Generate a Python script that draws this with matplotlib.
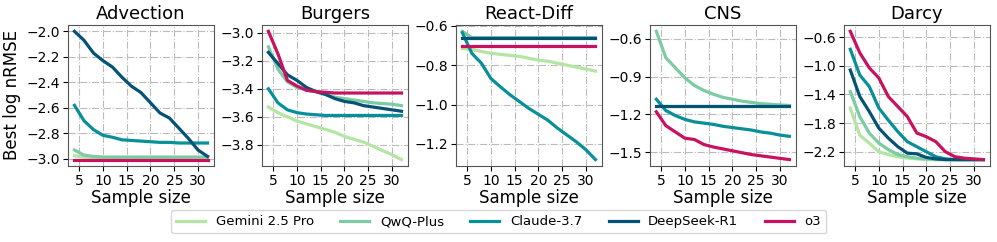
import numpy as np
import matplotlib
matplotlib.use("Agg")
import matplotlib.pyplot as plt

# sample sizes
sizes = [4, 6, 8, 10, 12, 14, 16, 18, 20, 22, 24, 26, 28, 30, 32]

models = ["Gemini 2.5 Pro", "QwQ-Plus", "Claude-3.7", "DeepSeek-R1", "o3"]
colors = ["#b3e6a3", "#7ccba2", "#089099", "#045275", "#c8125f"]

tasks = ["Advection", "Burgers", "React-Diff", "CNS", "Darcy"]
yticks = [
    [-3.0, -2.8, -2.6, -2.4, -2.2, -2.0],
    [-3.8, -3.6, -3.4, -3.2, -3.0],
    [-1.2, -1.0, -0.8, -0.6],
    [-1.5, -1.2, -0.9, -0.6],
    [-2.2, -1.8, -1.4, -1.0, -0.6],
]

advection = {
    "Gemini 2.5 Pro": [-2.975, -2.985, -2.99, -2.99, -2.99, -2.99, -2.99, -2.99, -2.99, -2.99, -2.99, -2.99, -2.99, -2.99, -2.99],
    "QwQ-Plus": [-2.93, -2.97, -2.98, -2.985, -2.985, -2.985, -2.985, -2.985, -2.985, -2.985, -2.985, -2.985, -2.985, -2.985, -2.985],
    "Claude-3.7": [-2.58, -2.70, -2.77, -2.815, -2.83, -2.85, -2.855, -2.86, -2.865, -2.87, -2.87, -2.875, -2.875, -2.875, -2.875],
    "DeepSeek-R1": [-2.0, -2.07, -2.17, -2.23, -2.28, -2.36, -2.43, -2.48, -2.56, -2.64, -2.68, -2.76, -2.84, -2.93, -2.98],
    "o3": [-3.005] * 15,
}
burgers = {
    "Gemini 2.5 Pro": [-3.53, -3.57, -3.60, -3.63, -3.65, -3.67, -3.69, -3.71, -3.74, -3.76, -3.78, -3.81, -3.84, -3.87, -3.905],
    "QwQ-Plus": [-3.10, -3.26, -3.35, -3.39, -3.41, -3.42, -3.44, -3.46, -3.47, -3.48, -3.49, -3.50, -3.505, -3.51, -3.52],
    "Claude-3.7": [-3.40, -3.50, -3.55, -3.57, -3.58, -3.585, -3.59, -3.59, -3.59, -3.59, -3.59, -3.59, -3.59, -3.59, -3.59],
    "DeepSeek-R1": [-3.14, -3.22, -3.30, -3.34, -3.39, -3.42, -3.44, -3.47, -3.49, -3.50, -3.52, -3.53, -3.54, -3.55, -3.56],
    "o3": [-2.99, -3.15, -3.34, -3.38, -3.41, -3.42, -3.425, -3.43, -3.43, -3.43, -3.43, -3.43, -3.43, -3.43, -3.43],
}
react_diff = {
    "Gemini 2.5 Pro": [-0.715, -0.72, -0.73, -0.74, -0.745, -0.75, -0.755, -0.765, -0.775, -0.78, -0.79, -0.80, -0.81, -0.82, -0.83],
    "QwQ-Plus": [-0.628, -0.66, -0.66, -0.66, -0.66, -0.66, -0.66, -0.66, -0.66, -0.66, -0.66, -0.66, -0.66, -0.66, -0.66],
    "Claude-3.7": [-0.635, -0.74, -0.79, -0.868, -0.91, -0.95, -0.985, -1.02, -1.05, -1.08, -1.12, -1.155, -1.19, -1.23, -1.28],
    "DeepSeek-R1": [-0.66] * 15,
    "o3": [-0.70] * 15,
}
cns = {
    "Gemini 2.5 Pro": [-1.13] * 15,
    "QwQ-Plus": [-0.54, -0.75, -0.83, -0.91, -0.97, -1.01, -1.04, -1.065, -1.08, -1.095, -1.105, -1.115, -1.12, -1.125, -1.13],
    "Claude-3.7": [-1.08, -1.17, -1.21, -1.24, -1.26, -1.27, -1.28, -1.295, -1.305, -1.315, -1.325, -1.34, -1.35, -1.365, -1.375],
    "DeepSeek-R1": [-1.13] * 15,
    "o3": [-1.18, -1.29, -1.34, -1.39, -1.40, -1.44, -1.46, -1.475, -1.49, -1.505, -1.52, -1.53, -1.54, -1.55, -1.56],
}
darcy = {
    "Gemini 2.5 Pro": [-1.59, -1.97, -2.08, -2.20, -2.24, -2.27, -2.29, -2.30, -2.31, -2.31, -2.31, -2.31, -2.31, -2.31, -2.31],
    "QwQ-Plus": [-1.36, -1.71, -1.94, -2.08, -2.17, -2.24, -2.27, -2.29, -2.30, -2.31, -2.31, -2.31, -2.31, -2.31, -2.31],
    "Claude-3.7": [-0.77, -1.13, -1.29, -1.59, -1.76, -1.92, -2.06, -2.13, -2.20, -2.27, -2.30, -2.31, -2.31, -2.31, -2.31],
    "DeepSeek-R1": [-1.06, -1.43, -1.64, -1.87, -2.01, -2.13, -2.22, -2.23, -2.28, -2.30, -2.31, -2.31, -2.31, -2.31, -2.31],
    "o3": [-0.52, -0.82, -1.03, -1.17, -1.43, -1.57, -1.71, -1.94, -1.99, -2.06, -2.20, -2.27, -2.29, -2.30, -2.31],
}
all_data = [advection, burgers, react_diff, cns, darcy]

fig, axes = plt.subplots(1, 5, figsize=(9.97, 2.42), dpi=100)
fig.subplots_adjust(left=0.068, right=0.993, top=0.897, bottom=0.314, wspace=0.325)

for ax, task, data, yt in zip(axes, tasks, all_data, yticks):
    for m, c in zip(models, colors):
        ax.plot(sizes, data[m], color=c, lw=2.3, label=m)
    ax.set_title(task, fontsize=13, pad=4)
    ax.set_xlabel("Sample size", fontsize=12, labelpad=1)
    ax.set_xticks([5, 10, 15, 20, 25, 30])
    ax.set_yticks(yt)
    ax.tick_params(labelsize=10, pad=2)
    ax.grid(True, linestyle="-.", color="#bbbbbb", lw=0.8)
    for s in ax.spines.values():
        s.set_color("#555555")

axes[0].set_ylabel("Best log nRMSE", fontsize=12)

handles, labels = axes[0].get_legend_handles_labels()
fig.legend(handles, labels, loc="lower center", bbox_to_anchor=(0.5, 0.008), ncol=5,
           fontsize=9.5, frameon=True, handlelength=2.2, columnspacing=2.0)

fig.savefig("out.png", dpi=100)
